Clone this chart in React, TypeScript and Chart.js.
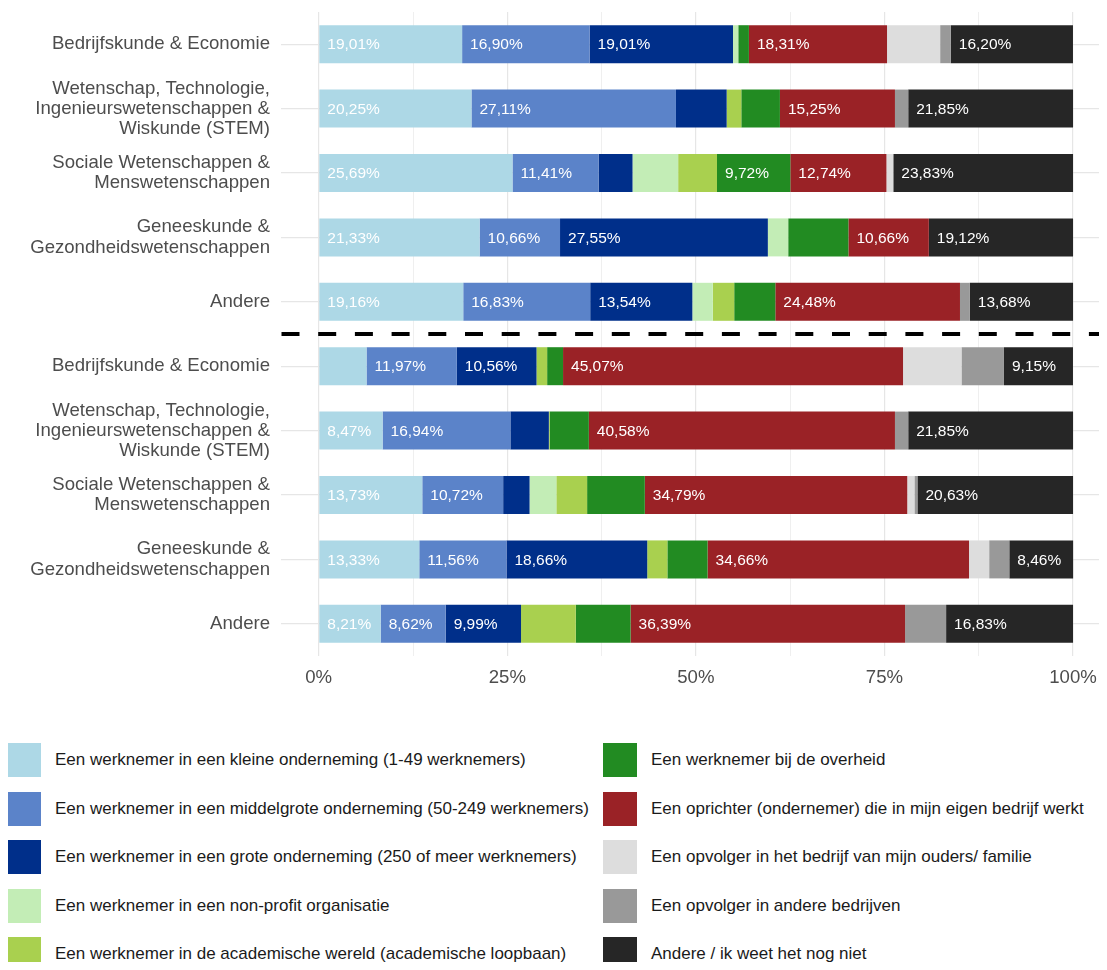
import React, { useEffect, useRef } from "react";
import { Chart, registerables } from "chart.js";
Chart.register(...registerables);

const FONT = "'Liberation Sans', Arial, Helvetica, sans-serif";

const categories: (string | string[])[] = [
  "Bedrijfskunde & Economie",
  ["Wetenschap, Technologie,", "Ingenieurswetenschappen &", "Wiskunde (STEM)"],
  ["Sociale Wetenschappen &", "Menswetenschappen"],
  ["Geneeskunde &", "Gezondheidswetenschappen"],
  "Andere",
  "Bedrijfskunde & Economie",
  ["Wetenschap, Technologie,", "Ingenieurswetenschappen &", "Wiskunde (STEM)"],
  ["Sociale Wetenschappen &", "Menswetenschappen"],
  ["Geneeskunde &", "Gezondheidswetenschappen"],
  "Andere",
];

const seriesNames = [
  "Een werknemer in een kleine onderneming (1-49 werknemers)",
  "Een werknemer in een middelgrote onderneming (50-249 werknemers)",
  "Een werknemer in een grote onderneming (250 of meer werknemers)",
  "Een werknemer in een non-profit organisatie",
  "Een werknemer in de academische wereld (academische loopbaan)",
  "Een werknemer bij de overheid",
  "Een oprichter (ondernemer) die in mijn eigen bedrijf werkt",
  "Een opvolger in het bedrijf van mijn ouders/ familie",
  "Een opvolger in andere bedrijven",
  "Andere / ik weet het nog niet",
];

const seriesColors = [
  "#ADD8E6",
  "#5B83C9",
  "#002F8A",
  "#C3EDB6",
  "#A9D04F",
  "#228B22",
  "#9A2226",
  "#DDDDDD",
  "#999999",
  "#262626",
];

const kleine = [19.01, 20.25, 25.69, 21.33, 19.16, 6.34, 8.47, 13.73, 13.33, 8.21];
const middelgrote = [16.9, 27.11, 11.41, 10.66, 16.83, 11.97, 16.94, 10.72, 11.56, 8.62];
const grote = [19.01, 6.72, 4.5, 27.55, 13.54, 10.56, 5.1, 3.5, 18.66, 9.99];
const nonProfit = [0.7, 0, 6.05, 2.7, 2.71, 0, 0, 3.55, 0, 0];
const academisch = [0, 1.94, 5.15, 0, 2.84, 1.41, 0.1, 4.08, 2.67, 7.26];
const overheid = [1.41, 5.12, 9.72, 7.98, 5.45, 2.11, 5.2, 7.65, 5.33, 7.26];
const oprichter = [18.31, 15.25, 12.74, 10.66, 24.48, 45.07, 40.58, 34.79, 34.66, 36.39];
const opvolgerFamilie = [7.04, 0, 0.91, 0, 0, 7.75, 0, 0.95, 2.67, 0];
const opvolgerAndere = [1.41, 1.76, 0, 0, 1.31, 5.63, 1.76, 0.4, 2.67, 5.44];
const andere = [16.2, 21.85, 23.83, 19.12, 13.68, 9.15, 21.85, 20.63, 8.46, 16.83];

const seriesValues = [
  kleine,
  middelgrote,
  grote,
  nonProfit,
  academisch,
  overheid,
  oprichter,
  opvolgerFamilie,
  opvolgerAndere,
  andere,
];

const xTickValues = [0, 12.5, 25, 37.5, 50, 62.5, 75, 87.5, 100];
const labelThreshold = 8;

const fmt = (v: number) => v.toFixed(2).replace(".", ",") + "%";

const dataLabelPlugin = {
  id: "segLabels",
  afterDatasetsDraw(chart: any) {
    const ctx = chart.ctx;
    ctx.save();
    ctx.font = `15.5px ${FONT}`;
    ctx.fillStyle = "#FFFFFF";
    ctx.textAlign = "left";
    ctx.textBaseline = "middle";
    chart.data.datasets.forEach((ds: any, di: number) => {
      const meta = chart.getDatasetMeta(di);
      meta.data.forEach((el: any, i: number) => {
        const v = ds.data[i];
        if (v >= labelThreshold) {
          const p = el.getProps(["x", "y", "base"], true);
          const left = Math.min(p.x, p.base);
          ctx.fillText(fmt(v), left + 8, p.y + 1);
        }
      });
    });
    ctx.restore();
  },
};

const separatorPlugin = {
  id: "separator",
  afterDatasetsDraw(chart: any) {
    const { ctx, chartArea, scales } = chart;
    const y = (scales.y.getPixelForTick(4) + scales.y.getPixelForTick(5)) / 2;
    ctx.save();
    ctx.strokeStyle = "#000000";
    ctx.lineWidth = 4;
    ctx.setLineDash([18, 18.7]);
    ctx.beginPath();
    ctx.moveTo(chartArea.left + 0.5, y);
    ctx.lineTo(chartArea.right, y);
    ctx.stroke();
    ctx.restore();
  },
};

function ChartCanvas() {
  const ref = useRef<HTMLCanvasElement | null>(null);
  useEffect(() => {
    if (!ref.current) return;
    const chart = new Chart(ref.current, {
      type: "bar",
      data: {
        labels: categories as any,
        datasets: seriesNames.map((name, i) => ({
          label: name,
          data: seriesValues[i],
          backgroundColor: seriesColors[i],
          borderWidth: 0,
          barPercentage: 0.59,
          categoryPercentage: 1,
        })),
      },
      options: {
        indexAxis: "y",
        animation: false,
        responsive: false,
        maintainAspectRatio: false,
        layout: { padding: { top: 4, left: 0, right: 0, bottom: 0 } },
        plugins: {
          legend: { display: false },
          tooltip: { enabled: false },
        },
        scales: {
          x: {
            type: "linear",
            stacked: true,
            min: -5,
            max: 104.5,
            border: { display: false },
            afterBuildTicks: (scale: any) => {
              scale.ticks = xTickValues.map((v) => ({ value: v }));
            },
            afterFit: (scale: any) => {
              scale.height = 42;
              scale.paddingLeft = 0;
              scale.paddingRight = 0;
            },
            grid: {
              drawTicks: false,
              color: (c: any) =>
                c.tick && c.tick.value % 25 === 0 ? "#E6E6E6" : "#EFEFEF",
              lineWidth: (c: any) => (c.tick && c.tick.value % 25 === 0 ? 1.2 : 1),
            },
            ticks: {
              autoSkip: false,
              maxRotation: 0,
              padding: 11,
              color: "#4D4D4D",
              font: { family: FONT, size: 18.6 },
              callback: (v: any) => (Number(v) % 25 === 0 ? `${v}%` : ""),
            },
          },
          y: {
            type: "category",
            stacked: true,
            border: { display: false },
            afterFit: (scale: any) => {
              scale.width = 273;
              scale.paddingTop = 0;
              scale.paddingBottom = 0;
            },
            grid: {
              offset: false,
              drawTicks: false,
              color: "#E6E6E6",
              lineWidth: 1.2,
            },
            ticks: {
              autoSkip: false,
              padding: 11,
              color: "#4D4D4D",
              font: { family: FONT, size: 18.6, lineHeight: 1.08 },
            },
          },
        },
      },
      plugins: [dataLabelPlugin, separatorPlugin],
    } as any);
    return () => chart.destroy();
  }, []);
  return (
    <canvas
      ref={ref}
      width={1099}
      height={690}
      style={{ display: "block", width: 1099, height: 690 }}
    />
  );
}

function Legend() {
  const rowCenter0 = 62;
  const rowStep = 48.5;
  const sq = 34;
  return (
    <div style={{ position: "relative", height: 256, fontFamily: FONT }}>
      {seriesNames.map((name, i) => {
        const col = i < 5 ? 0 : 1;
        const row = i % 5;
        const cy = rowCenter0 + row * rowStep;
        const sqLeft = col === 0 ? -1 : 595;
        const textLeft = col === 0 ? 47 : 643;
        return (
          <React.Fragment key={name}>
            <div
              style={{
                position: "absolute",
                left: sqLeft,
                top: cy - sq / 2,
                width: sq,
                height: sq,
                background: seriesColors[i],
              }}
            />
            <div
              style={{
                position: "absolute",
                left: textLeft,
                top: cy - 12,
                height: 24,
                lineHeight: "24px",
                fontSize: 17,
                color: "#1A1A1A",
                whiteSpace: "nowrap",
              }}
            >
              {name}
            </div>
          </React.Fragment>
        );
      })}
    </div>
  );
}

export default function App() {
  return (
    <div style={{ width: 1099, height: 954, overflow: "hidden" }}>
      <ChartCanvas />
      <Legend />
    </div>
  );
}
